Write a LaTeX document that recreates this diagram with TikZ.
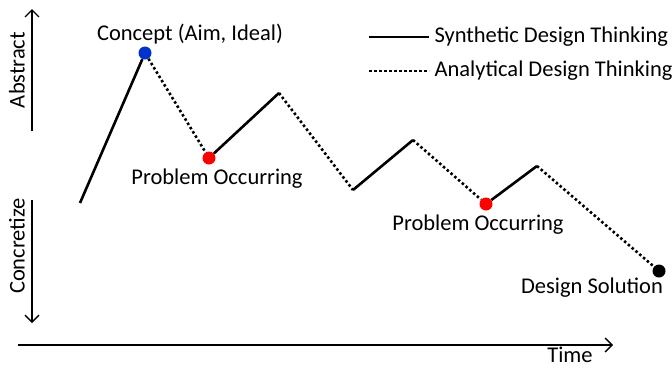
\documentclass[tikz,border=0pt]{standalone}
\usepackage{fontspec}
\setmainfont{Carlito}
\usetikzlibrary{positioning, arrows.meta}

\begin{document}
\begin{tikzpicture}[x=1pt,y=-1pt,font=\fontsize{22.5}{26}\selectfont,
    synth/.style={line width=2.6pt},
    anal/.style={line width=2.6pt,dash pattern=on 2.5pt off 2.5pt},
    dot/.style={circle,inner sep=0pt,minimum size=13pt},
    axis/.style={line width=1.3pt,-{Straight Barb[length=7pt,width=14pt]}}]
       \useasboundingbox (0,0) rectangle (672,367);

       % axes
       \coordinate (ab0) at (32,131);
       \coordinate (ab1) at (32,9);
       \coordinate (co0) at (32,200);
       \coordinate (co1) at (32,323);
       \coordinate (t0) at (18,345);
       \coordinate (t1) at (613,345);
       \draw[axis] (ab0) -- (ab1);
       \draw[axis] (co0) -- (co1);
       \draw[axis] (t0) -- (t1);
       \node[rotate=90] (abl) at (17,70) {Abstract};
       \node[rotate=90] (col) at (17,246) {Concretize};
       \node[anchor=base,inner sep=0pt] (tl) at (570,362) {Time};

       % design path
       \coordinate (s) at (80,203);
       \node[dot,fill={rgb,255:red,0;green,51;blue,204}] (c) at (145,53) {};
       \node[dot,fill=red] (p1) at (209,158) {};
       \coordinate (k2) at (279,93);
       \coordinate (v2) at (353,190);
       \coordinate (k3) at (413,140);
       \node[dot,fill=red] (p2) at (486,204) {};
       \coordinate (k4) at (537,166);
       \node[dot,fill=black] (d) at (659,271) {};

       \draw[synth] (s) -- (c);
       \draw[anal] (c) -- (p1);
       \draw[synth] (p1) -- (k2);
       \draw[anal] (k2) -- (v2);
       \draw[synth] (v2) -- (k3);
       \draw[anal] (k3) -- (p2);
       \draw[synth] (p2) -- (k4);
       \draw[anal] (k4) -- (d);

       \node (cl) at (190,34) {Concept (Aim, Ideal)};
       \node (pl1) at (217,179) {Problem Occurring};
       \node (pl2) at (478,225) {Problem Occurring};
       \node[anchor=base,inner sep=0pt] (dl) at (592,293) {Design Solution};

       % legend
       \coordinate (ls0) at (369,37);
       \coordinate (ls1) at (429,37);
       \coordinate (la0) at (369,71);
       \coordinate (la1) at (429,71);
       \draw[synth] (ls0) -- (ls1);
       \draw[anal] (la0) -- (la1);
       \node[anchor=west] (lsl) at (431,37) {Synthetic Design Thinking};
       \node[anchor=west] (lal) at (431,71) {Analytical Design Thinking};
\end{tikzpicture}
\end{document}
